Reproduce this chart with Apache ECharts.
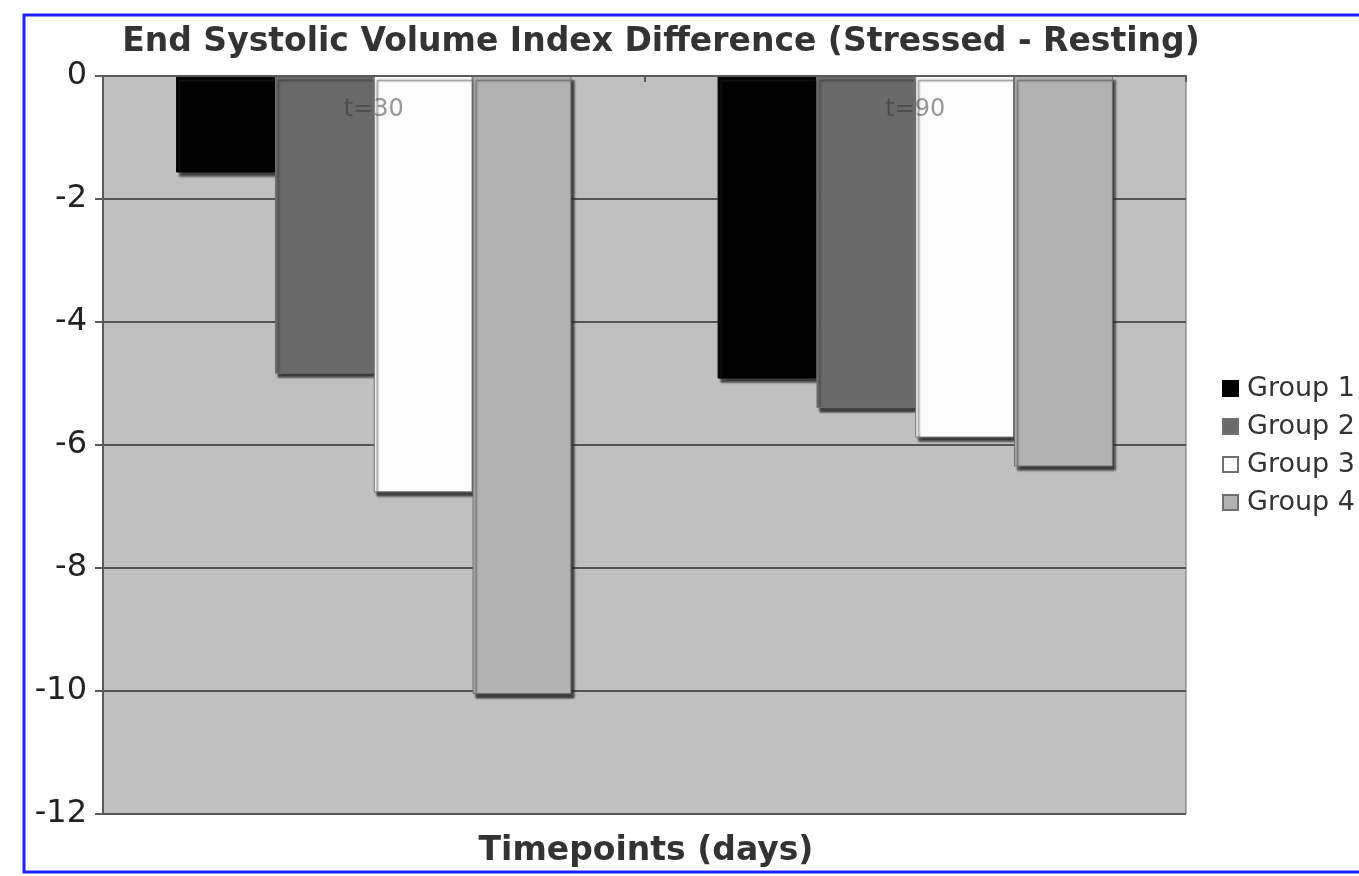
<!DOCTYPE html>
<html>
<head>
<meta charset="utf-8">
<script src="https://cdn.jsdelivr.net/npm/echarts@6/dist/echarts.min.js"></script>
<style>
html,body{margin:0;padding:0;background:#fff;}
#chart{width:1359px;height:876px;}
</style>
</head>
<body>
<div id="chart"></div>
<script>
var categories = ['t=30', 't=90'];
var group1 = [-1.57, -4.92];
var group2 = [-4.84, -5.40];
var group3 = [-6.77, -5.88];
var group4 = [-10.05, -6.35];
var seriesNames = ['Group 1', 'Group 2', 'Group 3', 'Group 4'];
var seriesColors = ['#000000', '#6a6a6a', '#fcfcfc', '#b2b2b2'];
var yTicks = [0, -2, -4, -6, -8, -10, -12];

var chart = echarts.init(document.getElementById('chart'));
var allData = [group1, group2, group3, group4];
var series = allData.map(function (d, i) {
  return {
    name: seriesNames[i],
    type: 'bar',
    data: d,
    barGap: '0%',
    barCategoryGap: '27%',
    itemStyle: {
      color: seriesColors[i],
      borderColor: i === 0 ? '#000' : '#6f6f6f',
      borderWidth: 1,
      shadowColor: 'rgba(40,40,40,0.85)',
      shadowBlur: 2,
      shadowOffsetX: 3,
      shadowOffsetY: 4
    }
  };
});

chart.setOption({
  animation: false,
  backgroundColor: '#ffffff',
  title: [{
    text: 'End Systolic Volume Index Difference (Stressed - Resting)',
    left: 656,
    top: 21,
    textAlign: 'center',
    textStyle: {
      fontFamily: 'DejaVu Sans',
      fontWeight: 'bold',
      fontSize: 33,
      color: '#333333'
    }
  }, {
    text: 'Timepoints (days)',
    left: 641,
    top: 830,
    textAlign: 'center',
    textStyle: {
      fontFamily: 'DejaVu Sans',
      fontWeight: 'bold',
      fontSize: 33,
      color: '#333333'
    }
  }],
  legend: {
    orient: 'vertical',
    left: 1217,
    top: 370,
    itemWidth: 15,
    itemHeight: 15,
    itemGap: 11,
    icon: 'rect',
    data: seriesNames,
    textStyle: {
      fontFamily: 'DejaVu Sans',
      fontSize: 27,
      lineHeight: 27,
      color: '#333333',
      padding: [0, 0, 0, 4]
    }
  },
  grid: {
    left: 103,
    right: 173,
    top: 76,
    bottom: 62,
    show: true,
    backgroundColor: '#c0c0c0',
    borderColor: '#6a6a6a',
    borderWidth: 1
  },
  xAxis: {
    type: 'category',
    data: categories,
    position: 'top',
    z: 5,
    axisLine: { show: true, lineStyle: { color: '#5a5a5a', width: 2 } },
    axisTick: { show: true, inside: true, length: 6, lineStyle: { color: '#5a5a5a', width: 2 } },
    axisLabel: {
      inside: true,
      margin: 22,
      fontFamily: 'DejaVu Sans',
      fontSize: 24,
      color: 'rgba(50,50,50,0.5)'
    }
  },
  yAxis: {
    type: 'value',
    min: -12,
    max: 0,
    interval: 2,
    axisLine: { show: true, lineStyle: { color: '#5a5a5a', width: 2 } },
    axisTick: { show: true, length: 8, lineStyle: { color: '#5a5a5a', width: 2 } },
    axisLabel: {
      margin: 16,
      fontFamily: 'DejaVu Sans',
      fontSize: 32,
      color: '#222222',
      formatter: function (v) { return yTicks.indexOf(v) >= 0 ? String(v) : ''; }
    },
    splitLine: { show: true, lineStyle: { color: '#555555', width: 2 } }
  },
  graphic: [{
    type: 'rect',
    silent: true,
    z: -1,
    shape: { x: 24, y: 15, width: 1400, height: 857 },
    style: { fill: 'none', stroke: '#1f1fff', lineWidth: 3 }
  }],
  series: series
});
</script>
</body>
</html>
